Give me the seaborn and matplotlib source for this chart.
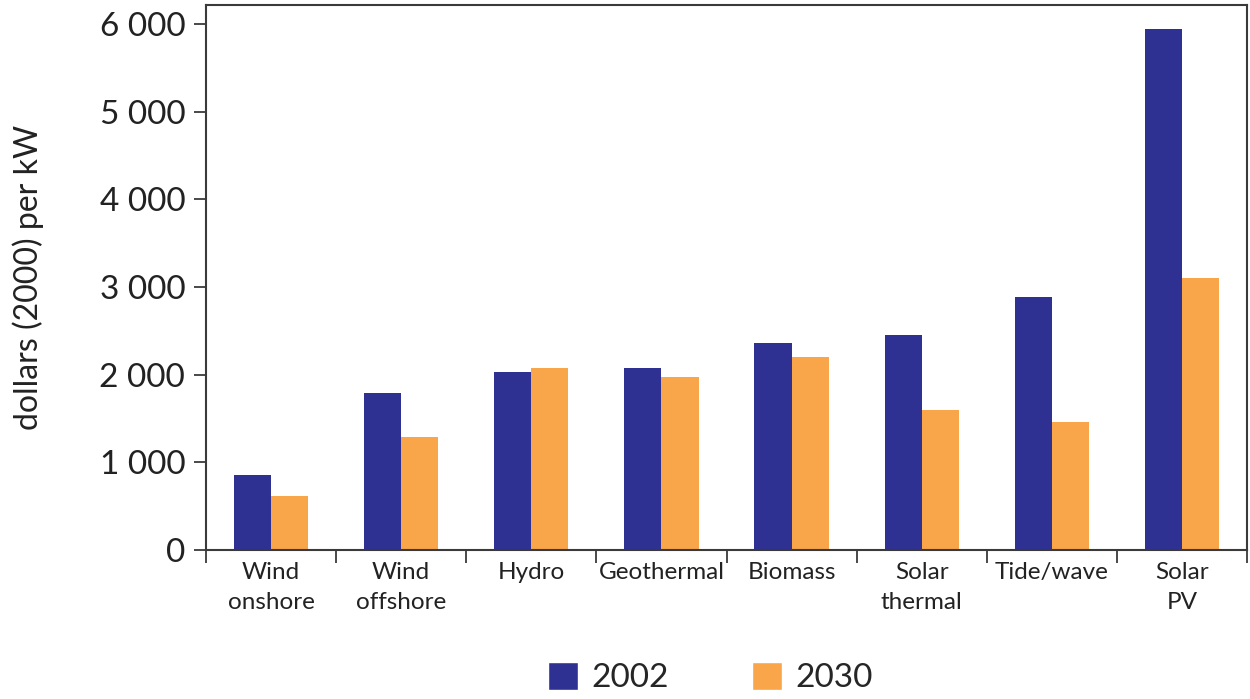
import matplotlib
matplotlib.use("Agg")

import matplotlib.pyplot as plt
import pandas as pd
import seaborn as sns
from matplotlib.ticker import FixedLocator, FuncFormatter
from matplotlib.patches import Patch

# --- data ---
categories = ["Wind\nonshore", "Wind\noffshore", "Hydro", "Geothermal", "Biomass",
              "Solar\nthermal", "Tide/wave", "Solar\nPV"]
cost_2002 = [855, 1790, 2030, 2075, 2360, 2450, 2885, 5940]
cost_2030 = [615, 1290, 2075, 1975, 2200, 1600, 1460, 3100]
years = ["2002", "2030"]
yticks = [0, 1000, 2000, 3000, 4000, 5000, 6000]

NAVY = "#2E3192"
ORANGE = "#F9A54A"
SPINE = "#3a3a3a"

df = pd.DataFrame({
    "category": categories * 2,
    "year": [years[0]] * len(categories) + [years[1]] * len(categories),
    "cost": cost_2002 + cost_2030,
})

sns.set_theme(style="white")
plt.rcParams["font.family"] = ["Lato", "DejaVu Sans"]

fig = plt.figure(figsize=(12.5, 6.99), dpi=100)
ax = fig.add_axes([0.1648, 0.2132, 0.8328, 0.7796])

sns.barplot(data=df, x="category", y="cost", hue="year", order=categories,
            hue_order=years, palette=[NAVY, ORANGE], width=0.57, gap=0,
            saturation=1, legend=False, linewidth=0, ax=ax)

ax.set_xlim(-0.5, len(categories) - 0.5)
ax.set_ylim(0, 6215)
ax.set_yticks(yticks)
ax.yaxis.set_major_formatter(FuncFormatter(lambda v, _: f"{int(v):,}".replace(",", " ")))
ax.tick_params(axis="y", direction="out", length=9, width=1.3, color=SPINE,
               labelsize=24, labelcolor="#222222", pad=6, left=True)

# category labels without ticks, separators as minor ticks
ax.tick_params(axis="x", which="major", length=0, labelsize=17.5, labelcolor="#222222", pad=9)
for lbl in ax.get_xticklabels():
    lbl.set_linespacing(1.5)
ax.xaxis.set_minor_locator(FixedLocator([i - 0.5 for i in range(len(categories) + 1)]))
ax.tick_params(axis="x", which="minor", direction="out", length=9, width=1.3,
               color=SPINE, bottom=True)

ax.set_xlabel("")
ax.set_ylabel("dollars (2000) per kW", fontsize=23, color="#222222", labelpad=40)

for side in ["left", "bottom", "top", "right"]:
    ax.spines[side].set_visible(True)
    ax.spines[side].set_color(SPINE)
    ax.spines[side].set_linewidth(1.5)

handles = [Patch(facecolor=NAVY, label=years[0]), Patch(facecolor=ORANGE, label=years[1])]
fig.legend(handles=handles, loc="lower center", bbox_to_anchor=(0.568, -0.035), ncol=2,
           frameon=False, fontsize=24, handlelength=0.9, handleheight=0.9,
           handletextpad=0.4, columnspacing=2.5)

fig.savefig("out.png", dpi=100)
